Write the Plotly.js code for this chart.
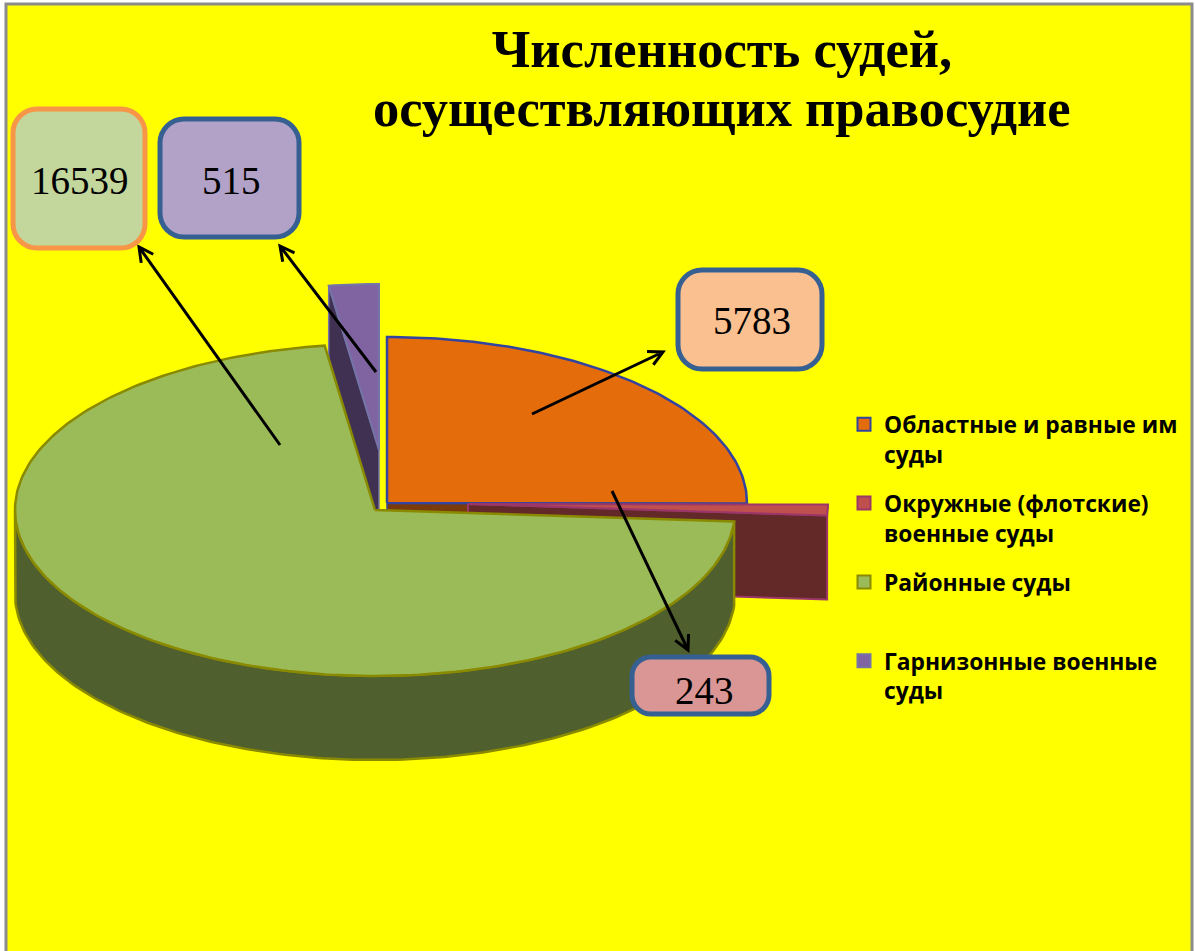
<!DOCTYPE html>
<html><head><meta charset="utf-8">
<script src="https://cdn.plot.ly/plotly-3.0.1.min.js"></script>
<style>html,body{margin:0;padding:0;background:#fff;overflow:hidden}#c{width:1195px;height:951px}</style>
</head><body><div id="c"></div>
<script>
// ---- data ----
const titleLines = ['Численность судей,','осуществляющих правосудие'];
const categories = ['Областные и равные им<br>суды','Окружные (флотские)<br>военные суды','Районные суды<br> ','Гарнизонные военные<br>суды'];
const values = [5783, 243, 16539, 515];
const valueLabels = ['5783','243','16539','515'];

// ---- styles ----
const topColors  = ['#e46c0a','#c0504d','#9bbb59','#8064a2'];
const sideColors = ['#7a3b0c','#632828','#4f5f2e','#403152'];
const edgeColors = ['#3344a0','#9b3668','#8a8a00','#7474a8'];
const boxFill    = ['#fac090','#d99694','#c3d69b','#b3a2c7'];
const boxEdge    = ['#376092','#376092','#f79646','#376092'];

// ---- 3D projection geometry (px space of the axes) ----
const RX = 360, RY = 166, DEPTH = 84;
const tips = [[387,503],[468,504],[375,510],[379,450]];
const boxes = [[678,270,822,369],[632,657,769,714],[13,109,145,248],[160,119,299,237]];
const boxText = [[752,320],[704,690],[80,180],[231,180]];
const arrows = [[532,414,663,352],[612,491,688,650],[280,445,139,247],[376,372,280,246]];

const total = values.reduce((a,b)=>a+b,0);
let acc = 0;
const spans = values.map(v=>{const s=acc/total*360; acc+=v; return [s,acc/total*360];});
const rad = d=>d*Math.PI/180;
const P = (i,th,dz=0)=>[tips[i][0]+RX*Math.sin(rad(th)), tips[i][1]-RY*Math.cos(rad(th))+dz];
const arc = (i,a,b,dz=0)=>{const n=Math.max(2,Math.ceil(Math.abs(b-a)));const o=[];for(let k=0;k<=n;k++)o.push(P(i,a+(b-a)*k/n,dz));return o;};
const poly = (pts,i,fill,w)=>({type:'scatter',mode:'lines',x:pts.map(p=>p[0]),y:pts.map(p=>p[1]),
  fill:'toself',fillcolor:fill,line:{color:edgeColors[i],width:w},showlegend:false,hoverinfo:'skip'});
const close = pts=>pts.concat([pts[0]]);

function cutFace(i,th){
  const t=tips[i],e=P(i,th);
  return close([t,e,[e[0],e[1]+DEPTH],[t[0],t[1]+DEPTH]]);
}
function topFace(i){ const [a,b]=spans[i]; return close([tips[i],...arc(i,a,b)]); }

const traces=[];
// back to front: garrison, regional (oblast), district military, district courts
traces.push(poly(cutFace(3,spans[3][0]),3,sideColors[3],1.5));
traces.push(poly(topFace(3),3,topColors[3],2));
traces.push(poly(cutFace(0,spans[0][1]),0,sideColors[0],1.5));
traces.push(poly(topFace(0),0,topColors[0],2.5));
traces.push(poly(cutFace(1,spans[1][1]),1,sideColors[1],2));
traces.push(poly(topFace(1),1,topColors[1],2));
const gStart=spans[2][0];
const wall=close([...arc(2,gStart,270),...arc(2,270,gStart,DEPTH)]);
traces.push(poly(wall,2,sideColors[2],2.5));
traces.push(poly(topFace(2),2,topColors[2],2.5));

// legend entries
categories.forEach((c,i)=>traces.push({type:'scatter',mode:'markers',x:[-500],y:[-500],name:c,legendgroup:'g'+i,
  marker:{symbol:'square',size:13,color:topColors[i],line:{color:edgeColors[i],width:2}},hoverinfo:'skip'}));

function roundRect(b,r){const [x0,y0,x1,y1]=b,c=r*0.45;
  return `M${x0+r},${y0}L${x1-r},${y0}C${x1-c},${y0} ${x1},${y0+c} ${x1},${y0+r}L${x1},${y1-r}C${x1},${y1-c} ${x1-c},${y1} ${x1-r},${y1}L${x0+r},${y1}C${x0+c},${y1} ${x0},${y1-c} ${x0},${y1-r}L${x0},${y0+r}C${x0},${y0+c} ${x0+c},${y0} ${x0+r},${y0}Z`;}
function arrowPath(a){const [x0,y0,x1,y1]=a;const ang=Math.atan2(y1-y0,x1-x0),L=16,s=0.48;
  const h=t=>`${x1-L*Math.cos(ang+t)},${y1-L*Math.sin(ang+t)}`;
  return `M${x0},${y0}L${x1},${y1}M${h(s)}L${x1},${y1}L${h(-s)}`;}

const shapes=[
 {type:'rect',xref:'x',yref:'y',x0:6,y0:4,x1:1192,y1:990,fillcolor:'#ffff00',line:{color:'#8c8c8c',width:3},layer:'below'},
 ...arrows.map(a=>({type:'path',path:arrowPath(a),line:{color:'#000',width:3},layer:'above'})),
 ...boxes.map((b,i)=>({type:'path',path:roundRect(b,Math.min(24,(b[3]-b[1])/3)),fillcolor:boxFill[i],line:{color:boxEdge[i],width:5},layer:'above'}))
];
const annotations=valueLabels.map((t,i)=>({x:boxText[i][0],y:boxText[i][1],xref:'x',yref:'y',text:t,showarrow:false,
  font:{family:'Liberation Serif',size:39,color:'#000'},xanchor:'center',yanchor:'middle'}));
annotations.push({x:722,y:108,xref:'x',yref:'y',text:titleLines[1],showarrow:false,xanchor:'center',yanchor:'middle',
  font:{family:'Liberation Serif',size:52.5,color:'#000',weight:700}});

Plotly.newPlot('c',traces,{
 width:1195,height:951,margin:{l:0,r:0,t:0,b:0},paper_bgcolor:'#fff',plot_bgcolor:'#fff',
 xaxis:{range:[0,1195],visible:false,fixedrange:true},
 yaxis:{range:[951,0],visible:false,fixedrange:true},
 title:{text:titleLines[0],x:722/1195,xanchor:'center',y:1-49/951,yanchor:'middle',
   font:{family:'Liberation Serif',size:52.5,color:'#000',weight:700}},
 legend:{x:844/1195,xanchor:'left',y:1-403/951,yanchor:'top',bgcolor:'rgba(0,0,0,0)',tracegroupgap:16.5,valign:'top',
   font:{family:'Open Sans',size:22.8,color:'#000',weight:700}},
 shapes,annotations,showlegend:true
},{displayModeBar:false,staticPlot:true});
</script></body></html>
